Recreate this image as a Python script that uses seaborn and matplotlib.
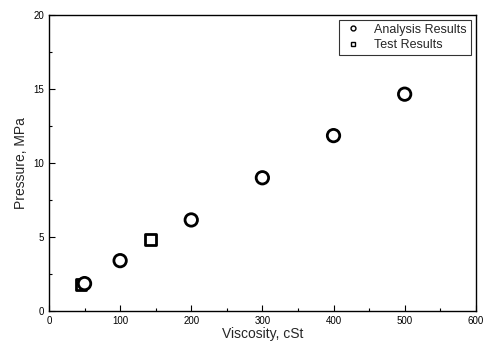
import pandas as pd
import matplotlib
matplotlib.use("Agg")
import matplotlib.pyplot as plt
import seaborn as sns

# values
analysis_visc = [50, 100, 200, 300, 400, 500]
analysis_pres = [1.85, 3.4, 6.15, 9.0, 11.85, 14.65]
test_visc = [45, 143]
test_pres = [1.8, 4.85]

df = pd.concat([
    pd.DataFrame({"Viscosity": test_visc, "Pressure": test_pres, "Series": "Test Results"}),
    pd.DataFrame({"Viscosity": analysis_visc, "Pressure": analysis_pres, "Series": "Analysis Results"}),
])

sns.set_style("ticks")
plt.rcParams["font.family"] = ["Liberation Sans", "DejaVu Sans"]

fig = plt.figure(figsize=(4.85, 3.49), dpi=100)
ax = fig.add_axes([0.101, 0.109, 0.880, 0.848])

sns.scatterplot(data=df, x="Viscosity", y="Pressure", style="Series", size="Series",
                markers={"Analysis Results": "o", "Test Results": "s"},
                sizes={"Analysis Results": 80, "Test Results": 60},
                style_order=["Analysis Results", "Test Results"],
                facecolor="white", edgecolor="black", linewidth=2.0,
                ax=ax, legend=False, zorder=3)

ax.set_xlim(0, 600)
ax.set_ylim(0, 20)
ax.set_xticks([0, 100, 200, 300, 400, 500, 600])
ax.set_xticklabels(["0", "100", "200", "300", "400", "500", "600"])
ax.set_yticks([0, 5, 10, 15, 20])
ax.set_xticks(range(50, 600, 100), minor=True)
ax.set_yticks([2.5, 7.5, 12.5, 17.5], minor=True)
ax.tick_params(which="both", direction="in", labelsize=7, colors="black", width=0.8)
ax.tick_params(which="major", length=4)
ax.tick_params(which="minor", length=2)
for sp in ax.spines.values():
    sp.set_visible(True)
    sp.set_linewidth(1.0)
    sp.set_color("black")

ax.set_xlabel("Viscosity, cSt", fontsize=10, labelpad=1)
ax.set_ylabel("Pressure, MPa", fontsize=10, labelpad=4)

h1, = ax.plot([], [], "o", mfc="white", mec="black", ms=3.5, mew=1)
h2, = ax.plot([], [], "s", mfc="white", mec="black", ms=3.5, mew=1)
leg = ax.legend([h1, h2], ["Analysis Results", "Test Results"], loc="upper right",
                fontsize=9, frameon=True, fancybox=False, borderpad=0.3,
                handlelength=1.6, handletextpad=0.9, labelspacing=0.25,
                borderaxespad=0.4)
leg.get_frame().set_edgecolor("black")
leg.get_frame().set_linewidth(0.8)

fig.savefig("out.png", dpi=100)
